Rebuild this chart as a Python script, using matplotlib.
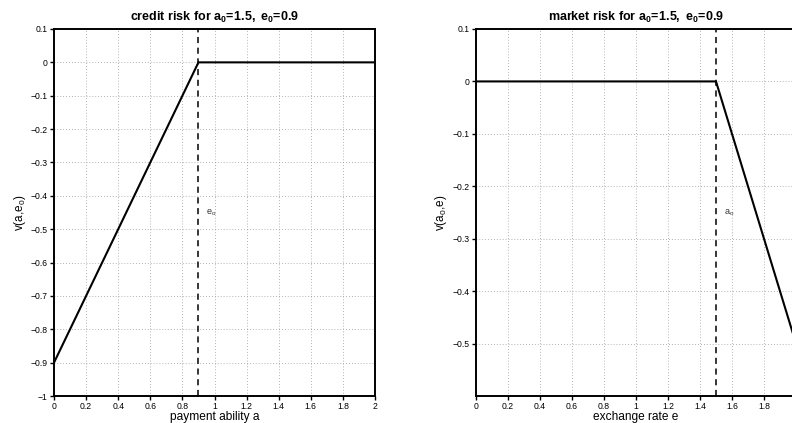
import matplotlib
matplotlib.use("Agg")
import matplotlib.pyplot as plt

plt.rcParams['font.family'] = ['Liberation Sans', 'DejaVu Sans']
plt.rcParams['mathtext.fontset'] = 'custom'
plt.rcParams['mathtext.rm'] = 'Liberation Sans'
plt.rcParams['mathtext.it'] = 'Liberation Sans'
plt.rcParams['mathtext.bf'] = 'Liberation Sans:bold'
plt.rcParams['mathtext.default'] = 'regular'

# Data
a_vals = [0, 0.9, 2]
v_credit = [-0.9, 0, 0]
e_vals = [0, 1.5, 2]
v_market = [0, 0, -0.5]
a0 = 1.5
e0 = 0.9
xticks = [0, 0.2, 0.4, 0.6, 0.8, 1, 1.2, 1.4, 1.6, 1.8, 2]
xticklabels = ['0', '0.2', '0.4', '0.6', '0.8', '1', '1.2', '1.4', '1.6', '1.8', '2']
yticks_left = [0.1, 0, -0.1, -0.2, -0.3, -0.4, -0.5, -0.6, -0.7, -0.8, -0.9, -1]
yticklabels_left = ['0.1', '0', '\u22120.1', '\u22120.2', '\u22120.3', '\u22120.4', '\u22120.5',
                    '\u22120.6', '\u22120.7', '\u22120.8', '\u22120.9', '\u22121']
yticks_right = [0.1, 0, -0.1, -0.2, -0.3, -0.4, -0.5]
yticklabels_right = ['0.1', '0', '\u22120.1', '\u22120.2', '\u22120.3', '\u22120.4', '\u22120.5']

fig = plt.figure(figsize=(7.92, 4.23), dpi=100)
W, H = 792, 423
ax1 = fig.add_axes([54 / W, (H - 396) / H, 321 / W, 367 / H])
ax2 = fig.add_axes([476 / W, (H - 396) / H, 320 / W, 367 / H])


def style(ax, yt, ytl, labx):
    ax.set_xlim(0, 2)
    ax.set_xticks(xticks)
    ax.set_xticklabels(xticklabels)
    ax.set_yticks(yt)
    ax.set_yticklabels(ytl)
    ax.tick_params(direction='out', length=3, width=1, labelsize=6.2, pad=1.5, colors='black')
    ax.tick_params(axis='x', pad=1)
    ax.grid(True, linestyle=(0, (1, 2.5)), color='#999999', linewidth=0.6)
    for s in ax.spines.values():
        s.set_linewidth(1.4)
        s.set_color('black')
    ax.yaxis.set_label_coords(labx, 0.5)
    ax.xaxis.set_label_coords(0.5, -0.042)


# Left: credit risk
ax1.plot(a_vals, v_credit, color='black', linewidth=1.5)
ax1.set_ylim(-1, 0.1)
ax1.axvline(e0, color='black', linestyle=(0, (4, 3)), linewidth=1.1)
ax1.text(0.95, -0.45, r'e$_o$', fontsize=6.5, ha='left', va='center', color='#333333')
style(ax1, yticks_left, yticklabels_left, -0.08)
ax1.set_title(r'$\mathbf{credit\ risk\ for\ a_0\!=\!1.5,\ e_0\!=\!0.9}$', fontsize=9, pad=6)
ax1.set_xlabel('payment ability a', fontsize=8.6)
ax1.set_ylabel(r'v(a,e$_0$)', fontsize=8.5)

# Right: market risk
ax2.plot(e_vals, v_market, color='black', linewidth=1.5)
ax2.set_ylim(-0.6, 0.1)
ax2.axvline(a0, color='black', linestyle=(0, (4, 3)), linewidth=1.1)
ax2.text(1.55, -0.25, r'a$_o$', fontsize=6.5, ha='left', va='center', color='#333333')
style(ax2, yticks_right, yticklabels_right, -0.085)
ax2.get_xticklabels()[-1].set_visible(False)
ax2.set_title(r'$\mathbf{market\ risk\ for\ a_0\!=\!1.5,\ e_0\!=\!0.9}$', fontsize=9, pad=6)
ax2.set_xlabel('exchange rate e', fontsize=8.6)
ax2.set_ylabel(r'v(a$_0$,e)', fontsize=8.5)

fig.savefig('out.png', dpi=100)
